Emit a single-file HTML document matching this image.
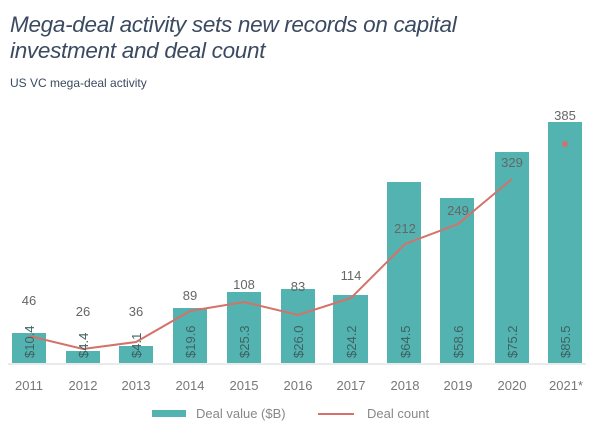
<!DOCTYPE html><html><head><style>body{margin:0;background:#fff;width:600px;height:434px;overflow:hidden;font-family:"Liberation Sans",sans-serif}
.t{position:absolute;left:10px;top:12px;font-size:22.5px;font-style:italic;color:#3b4a60;line-height:26px;letter-spacing:-0.3px}
.s{position:absolute;left:10px;top:76px;font-size:12px;color:#3b4a60}</style></head><body>
<div class="t">Mega-deal activity sets new records on capital<br>investment and deal count</div>
<div class="s">US VC mega-deal activity</div>
<svg width="600" height="434" style="position:absolute;left:0;top:0" font-family="Liberation Sans">
<line x1="8" y1="364" x2="586" y2="364" stroke="#e4e4e4" stroke-width="1.5"/>
<g fill="#52b3b1">
<rect x="12" y="333" width="34" height="30"/><rect x="66" y="351" width="34" height="12"/><rect x="119" y="346" width="34" height="17"/><rect x="173" y="308" width="34" height="55"/><rect x="227" y="292" width="34" height="71"/><rect x="281" y="289" width="34" height="74"/><rect x="333" y="295" width="35" height="68"/><rect x="387" y="182" width="34" height="181"/><rect x="440" y="198" width="34" height="165"/><rect x="495" y="152" width="34" height="211"/><rect x="548" y="122" width="34" height="241"/></g>
<polyline points="29,336 83,349 136,342 190,311 244,302 298,315 351,298 405,244 458,224 512,179" fill="none" stroke="#d4726a" stroke-width="2"/>
<circle cx="565" cy="144" r="3" fill="#d4726a"/>
<g font-size="13" fill="#666" text-anchor="middle">
<text x="29" y="305">46</text><text x="83" y="316">26</text><text x="136" y="316">36</text><text x="190" y="300">89</text><text x="244" y="289">108</text><text x="298" y="291">83</text><text x="351" y="280">114</text><text x="405" y="233">212</text><text x="458" y="215">249</text><text x="512" y="167">329</text><text x="565" y="120">385</text></g>
<g font-size="13" fill="#3f6262" text-anchor="start">
<text transform="translate(34,358) rotate(-90)">$10.4</text><text transform="translate(88,358) rotate(-90)">$4.4</text><text transform="translate(141,358) rotate(-90)">$4.1</text><text transform="translate(195,358) rotate(-90)">$19.6</text><text transform="translate(249,358) rotate(-90)">$25.3</text><text transform="translate(303,358) rotate(-90)">$26.0</text><text transform="translate(356,358) rotate(-90)">$24.2</text><text transform="translate(410,358) rotate(-90)">$64.5</text><text transform="translate(463,358) rotate(-90)">$58.6</text><text transform="translate(517,358) rotate(-90)">$75.2</text><text transform="translate(570,358) rotate(-90)">$85.5</text></g>
<g font-size="13" fill="#777" text-anchor="middle">
<text x="29" y="390">2011</text><text x="83" y="390">2012</text><text x="136" y="390">2013</text><text x="190" y="390">2014</text><text x="244" y="390">2015</text><text x="298" y="390">2016</text><text x="351" y="390">2017</text><text x="405" y="390">2018</text><text x="458" y="390">2019</text><text x="512" y="390">2020</text><text x="566" y="390">2021*</text></g>
<rect x="152" y="410" width="34" height="7" fill="#52b3b1"/>
<text x="196" y="418" font-size="13" fill="#888">Deal value ($B)</text>
<line x1="318" y1="414" x2="354" y2="414" stroke="#d4726a" stroke-width="2"/>
<text x="367" y="418" font-size="13" fill="#888">Deal count</text>
</svg></body></html>
